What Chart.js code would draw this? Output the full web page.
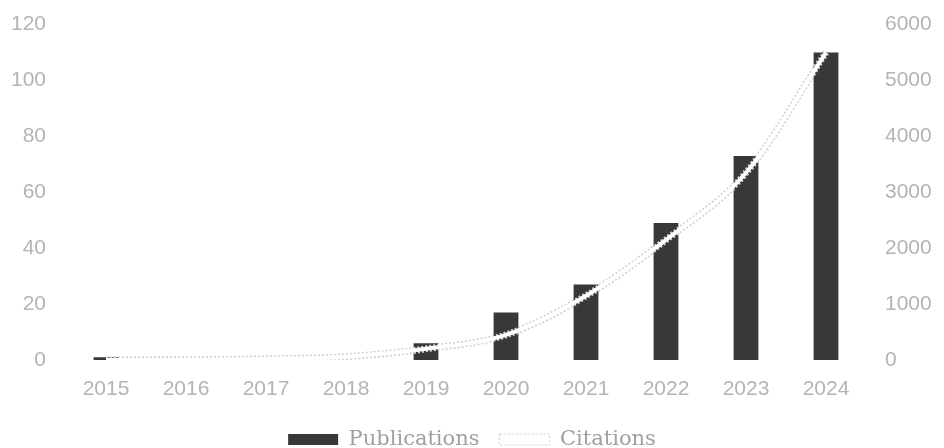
<!DOCTYPE html>
<html><head><meta charset="utf-8">
<script src="https://cdn.jsdelivr.net/npm/chart.js@4"></script>
<style>html,body{margin:0;padding:0;background:#fff}#wrap{width:944px;height:448px}</style>
</head><body><div id="wrap"><canvas id="c" width="944" height="448"></canvas></div>
<script>
const years = ['2015','2016','2017','2018','2019','2020','2021','2022','2023','2024'];
const publications = [1, 0, 0, 0, 6, 17, 27, 49, 73, 110];
const citations = [0, 5, 20, 60, 200, 450, 1150, 2150, 3350, 5500];
const leftTicks = [0, 20, 40, 60, 80, 100, 120];
const rightTicks = [0, 1000, 2000, 3000, 4000, 5000, 6000];

const tickColor = '#b4b4b4';
const tickFont = {family: 'Liberation Sans', size: 21};

new Chart(document.getElementById('c'), {
  data: {
    labels: years,
    datasets: [
      {type: 'line', label: 'Citations', data: citations, yAxisID: 'y2', borderColor: '#ffffff', borderWidth: 4,
       pointRadius: 0, tension: 0.4, order: 0, cubicInterpolationMode: 'monotone'},
      {type: 'line', label: '_outline', data: citations, yAxisID: 'y2', borderColor: '#cfcfcf', borderWidth: 7,
       borderDash: [2, 2], pointRadius: 0, tension: 0.4, order: 1, cubicInterpolationMode: 'monotone'},
      {type: 'bar', label: 'Publications', data: publications, yAxisID: 'y', backgroundColor: '#383838',
       barPercentage: 0.31, categoryPercentage: 1, order: 2}
    ]
  },
  options: {
    responsive: false, animation: false,
    layout: {padding: {top: 17.4, left: 0, right: 0, bottom: -12}},
    scales: {
      x: {grid: {display: false}, border: {display: false},
          afterFit: s => { s.height = 49; },
          ticks: {color: tickColor, font: tickFont, padding: 8.5, maxRotation: 0}},
      y: {position: 'left', min: 0, max: 120, grid: {display: false}, border: {display: false},
          afterBuildTicks: s => { s.ticks = leftTicks.map(v => ({value: v})); },
          afterFit: s => { s.width = 66; },
          ticks: {color: tickColor, font: tickFont, padding: 12}},
      y2: {position: 'right', min: 0, max: 6000, grid: {display: false}, border: {display: false},
          afterBuildTicks: s => { s.ticks = rightTicks.map(v => ({value: v})); },
          afterFit: s => { s.width = 78; },
          ticks: {color: tickColor, font: tickFont, padding: 11, callback: v => String(v)}}
    },
    plugins: {
      tooltip: {enabled: false},
      legend: {position: 'bottom', reverse: true,
        labels: {
          color: '#a0a0a0', font: {family: 'DejaVu Serif', size: 21}, boxWidth: 50, boxHeight: 11, padding: 20,
          filter: (item) => item.text !== '_outline',
          generateLabels: (chart) => {
            const base = Chart.defaults.plugins.legend.labels.generateLabels(chart);
            return base.map(it => {
              if (it.text === 'Citations') { it.fillStyle = '#ffffff'; it.strokeStyle = '#cfcfcf'; it.lineWidth = 1; it.lineDash = [2,2]; }
              return it;
            });
          }
        }}
    }
  }
});
</script></body></html>
